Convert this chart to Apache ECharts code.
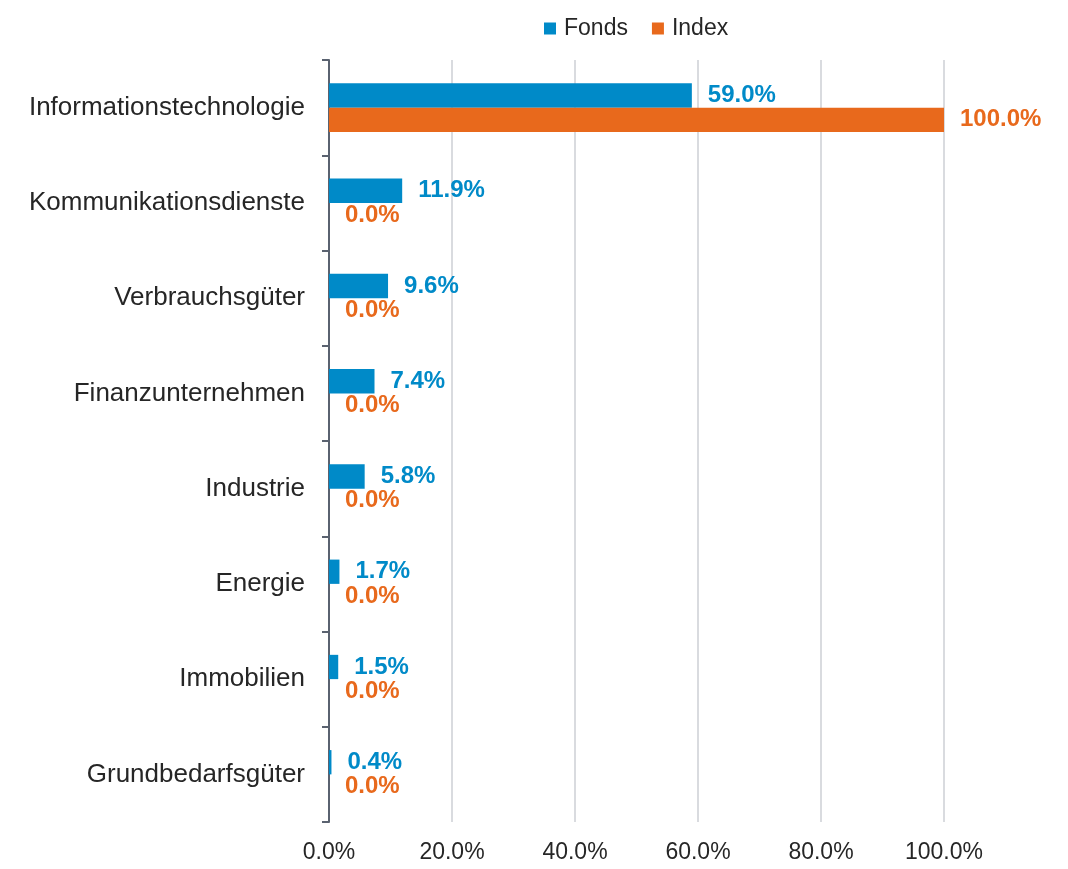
<!DOCTYPE html>
<html>
<head>
<meta charset="utf-8">
<script src="https://cdn.jsdelivr.net/npm/echarts@6/dist/echarts.min.js"></script>
<style>
html,body{margin:0;padding:0;background:#fff;}
#chart{width:1068px;height:869px;}
</style>
</head>
<body>
<div id="chart"></div>
<script>
const categories = ["Informationstechnologie","Kommunikationsdienste","Verbrauchsgüter","Finanzunternehmen","Industrie","Energie","Immobilien","Grundbedarfsgüter"];
const fondsValues = [59.0, 11.9, 9.6, 7.4, 5.8, 1.7, 1.5, 0.4];
const indexValues = [100.0, 0.0, 0.0, 0.0, 0.0, 0.0, 0.0, 0.0];
const seriesNames = ["Fonds", "Index"];
const xTicks = [0, 20, 40, 60, 80, 100];

const BLUE = "#008AC8";
const ORANGE = "#E8691C";
const FONT = "'Liberation Sans', Arial, sans-serif";

const chart = echarts.init(document.getElementById('chart'));
const labelFmt = p => p.value.toFixed(1) + '%';
chart.setOption({
  animation: false,
  textStyle: { fontFamily: FONT },
  legend: {
    data: seriesNames,
    top: 12,
    left: 539,
    itemWidth: 12,
    itemHeight: 12,
    itemGap: 24,
    icon: 'rect',
    textStyle: { fontSize: 23, color: '#262626', fontFamily: FONT, padding: [0, 0, 0, 3] }
  },
  grid: { left: 329, right: 124, top: 60, bottom: 47, containLabel: false },
  xAxis: {
    type: 'value',
    min: xTicks[0],
    max: xTicks[xTicks.length - 1],
    interval: 20,
    axisLine: { show: false },
    axisTick: { show: false },
    splitLine: { show: true, lineStyle: { color: '#D9DBDF', width: 2 } },
    axisLabel: {
      formatter: v => v.toFixed(1) + '%',
      fontSize: 23, color: '#262626', margin: 19, fontFamily: FONT
    }
  },
  yAxis: {
    type: 'category',
    data: categories,
    inverse: true,
    axisLine: { show: true, lineStyle: { color: '#5A6270', width: 2 } },
    axisTick: { show: true, inside: false, length: 7, lineStyle: { color: '#5A6270', width: 2 } },
    axisLabel: { fontSize: 26, color: '#262626', margin: 24, fontFamily: FONT }
  },
  series: [
    {
      name: seriesNames[0], type: 'bar', data: fondsValues,
      itemStyle: { color: BLUE },
      barGap: '0%', barCategoryGap: '49%',
      label: { show: true, position: 'right', distance: 16, formatter: labelFmt,
               color: BLUE, fontWeight: 'bold', fontSize: 24, fontFamily: FONT }
    },
    {
      name: seriesNames[1], type: 'bar', data: indexValues,
      itemStyle: { color: ORANGE },
      barGap: '0%', barCategoryGap: '49%',
      label: { show: true, position: 'right', distance: 16, formatter: labelFmt,
               color: ORANGE, fontWeight: 'bold', fontSize: 24, fontFamily: FONT }
    }
  ]
});
</script>
</body>
</html>
